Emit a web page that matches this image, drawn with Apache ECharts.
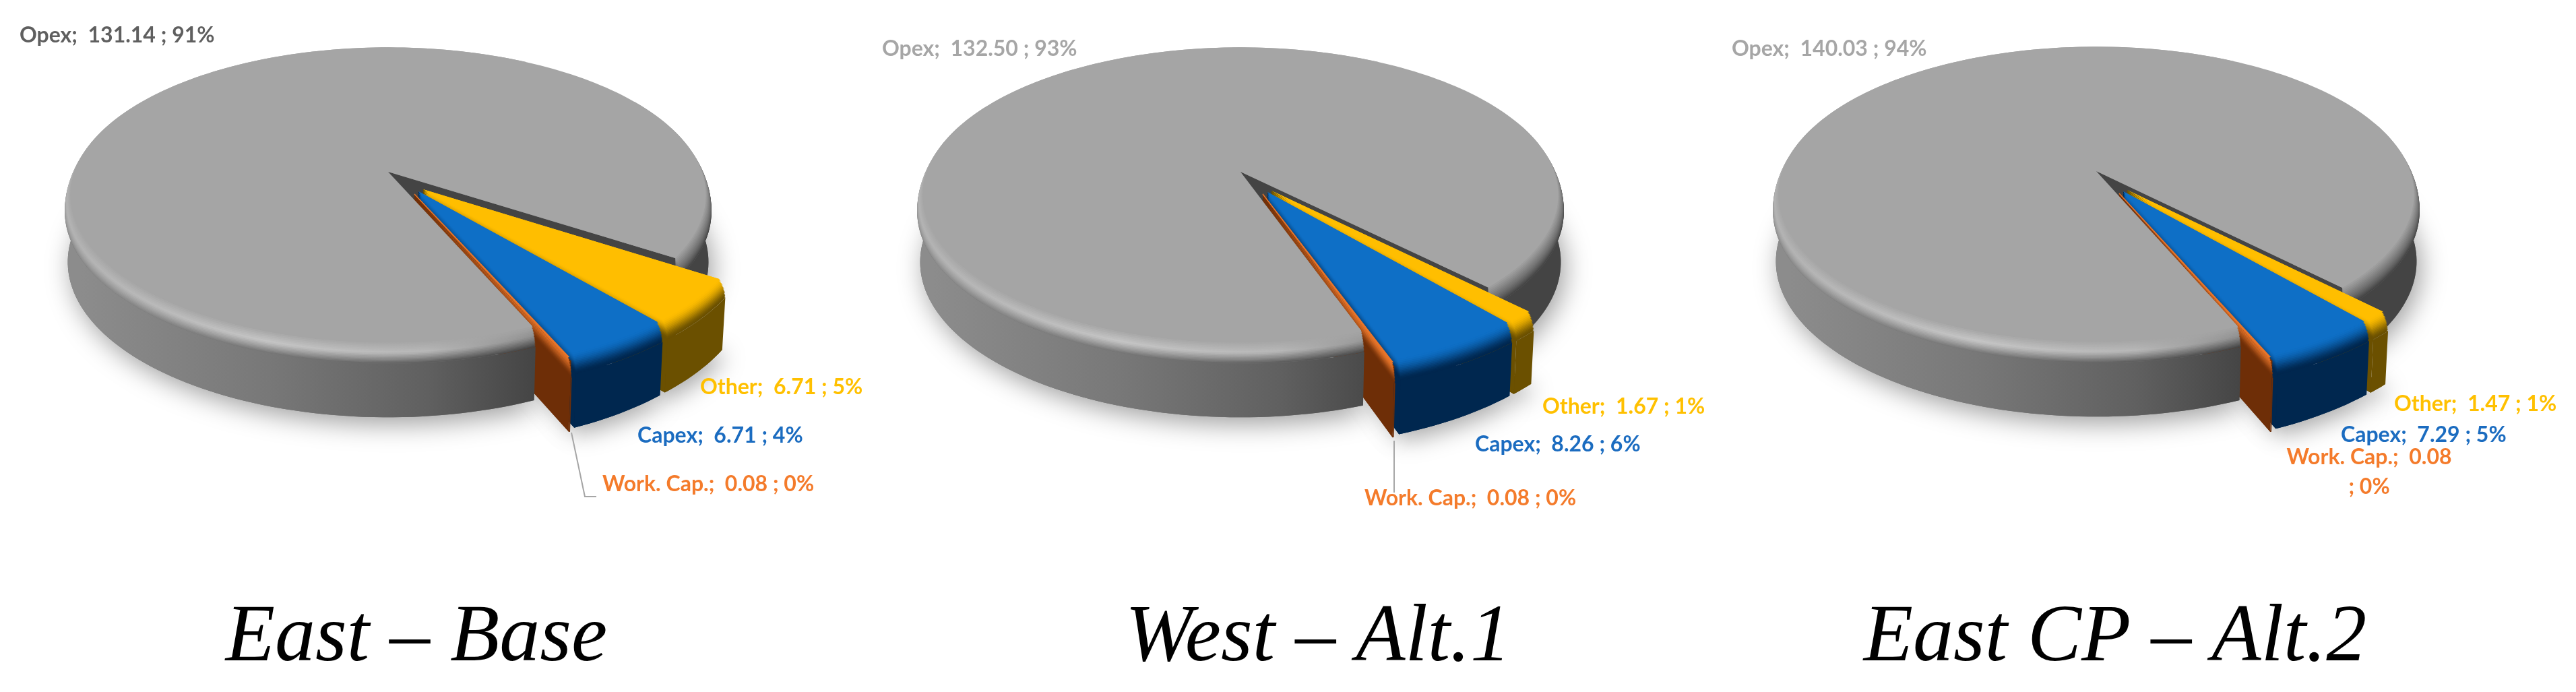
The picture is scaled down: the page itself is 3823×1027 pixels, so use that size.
<!DOCTYPE html>
<html>
<head>
<meta charset="utf-8">
<style>html,body{margin:0;padding:0;background:#fff}#c{width:3823px;height:1027px;filter:blur(0.6px)}</style>
<script src="https://cdn.jsdelivr.net/npm/echarts@6/dist/echarts.min.js"></script>
</head>
<body>
<div id="c"></div>
<script>
// ---- data ----
const panelTitles = ['East \u2013 Base', 'West \u2013 Alt.1', 'East CP \u2013 Alt.2'];
const sliceNames = ['Opex', 'Other', 'Capex', 'Work. Cap.'];
const opexValues = [131.14, 132.50, 140.03];
const otherValues = [6.71, 1.67, 1.47];
const capexValues = [6.71, 8.26, 7.29];
const workCapValues = [0.08, 0.08, 0.08];
const opexPct = [91, 93, 94];
const otherPct = [5, 1, 1];
const capexPct = [4, 6, 5];
const workCapPct = [0, 0, 0];

// ---- layout and styling ----
const panelLayout = [
  { cx: 576, cy: 255, opexEnd: 33.2, titleX: 613,
    explodeOffsets: [null, [52, 26], [45, 29], [39, 33]],
    labels: [[29, 53], [1039, 575], [946, 647], [894, 719]], opexColor: '#5f5f5f',
    leader: [[848, 642], [868, 737], [885, 737]] },
  { cx: 1841, cy: 255, opexEnd: 45.5, titleX: 1951,
    explodeOffsets: [null, [46, 28], [40, 30], [33, 33]],
    labels: [[1309, 73], [2289, 604], [2189, 660], [2025, 740]], opexColor: '#a6a6a6',
    leader: [[2069, 654], [2069, 731]] },
  { cx: 3111, cy: 254, opexEnd: 45.9, titleX: 3134,
    explodeOffsets: [null, [46, 28], [40, 30], [34, 33]],
    labels: [[2570, 73], [3553, 600], [3474, 646], [3516, 701]], opexColor: '#a6a6a6',
    wrapWork: true, leader: null }
];
const labelColors = ['#5f5f5f', '#FFC000', '#1B6CC0', '#F47B2B'];
const topColors = ['#A5A5A5', '#FFBE00', '#0E6FC6', '#E8752A'];
const wallColors = ['#444444', '#6B5000', '#00274F', '#6E2E07'];
const PROJ = { A: 218, B: 475, p: 0.16, rimDepth: 0.24, rimLayers: 14, topR: 0.98 };

function hex(c) { return [1, 3, 5].map(i => parseInt(c.substr(i, 2), 16)); }
function mix(a, b, t) {
  const x = hex(a), y = hex(b);
  return '#' + x.map((v, i) => Math.round(v + (y[i] - v) * t).toString(16).padStart(2, '0')).join('');
}
function project(L, X, Y, z) {
  const w = 1 - PROJ.p * Y;
  const x = PROJ.B * X / w, y = PROJ.A * Y / w;
  return [L.cx + x * (1 - 0.012 * z), L.cy + y + z * (97 + 0.03 * y)];
}
// inverse of the top-plane projection, for a screen offset from the pie centre
function unproject(dx, dy) {
  const ys = dy / PROJ.A;
  const Y = ys / (1 + PROJ.p * ys);
  const w = 1 - PROJ.p * Y;
  return [dx / PROJ.B * w, Y];
}
function arc(L, a0, a1, r, z, ox, oy) {
  const n = Math.min(400, Math.max(2, Math.ceil(Math.abs(a1 - a0) / 1.5)));
  const pts = [];
  for (let i = 0; i <= n; i++) {
    const a = (a0 + (a1 - a0) * i / n) * Math.PI / 180;
    pts.push(project(L, ox + r * Math.cos(a), oy + r * Math.sin(a), z));
  }
  return pts;
}
function wedge(L, a0, a1, r, z, ox, oy) {
  return [project(L, ox, oy, z)].concat(arc(L, a0, a1, r, z, ox, oy));
}
function band(L, a0, a1, r0, z0, r1, z1, ox, oy) {
  return arc(L, a0, a1, r0, z0, ox, oy).concat(arc(L, a1, a0, r1, z1, ox, oy));
}
function sideGradient(L, stops) {
  return { type: 'linear', x: L.cx - 456, y: 0, x2: L.cx + 221, y2: 0, global: true,
    colorStops: stops.map((c, i) => ({ offset: [0, 0.41, 0.76, 1][i], color: c })) };
}
const sideStops = ['#8C8C8C', '#787878', '#606060', '#444444'];
const hiStops = ['#B4B4B4', '#C6C6C6', '#B8B8B8', '#8E8E8E'];

function poly(points, fill, z2, extra) {
  return { type: 'polygon', shape: { points }, style: Object.assign({ fill }, extra || {}), z2, silent: true };
}
function renderOpex(L, a0, a1, children) {
  // a0 = Opex end (upper edge of the gap), a1 = Opex start (lower edge of the gap)
  const A = PROJ;
  const shadow = { shadowBlur: 38, shadowColor: 'rgba(0,0,0,0.38)', shadowOffsetY: 10, shadowOffsetX: 6 };
  children.push(poly(wedge(L, a1, a0 + 360, 1, 1, 0, 0), '#707070', 0, shadow));
  // back outer wall
  children.push(poly(band(L, a0 - 65, a0, 1, A.rimDepth, 1, 1, 0, 0), '#444444', 1));
  // front outer wall
  children.push(poly(band(L, a1, 200, 1, A.rimDepth, 1, 1, 0, 0), sideGradient(L, sideStops), 10));
  for (let k = 0; k <= A.rimLayers; k++) {
    const t = k / A.rimLayers;
    const z = A.rimDepth * (1 - t), r = 1 - (1 - A.topR) * t * t;
    const t1 = Math.min(1, t / 0.55), t2 = Math.max(0, (t - 0.55) / 0.45);
    const backFill = mix('#444444', '#A5A5A5', t);
    children.push(poly(band(L, a0 - 65, a0, r, z, 0.8, z, 0, 0), backFill, 1));
    const stops = sideStops.map((c, i) => mix(mix(c, hiStops[i], t1), '#A5A5A5', t2));
    children.push(poly(band(L, a1, 300, r, z, 0.8, z, 0, 0), sideGradient(L, stops), 10));
  }
  // inner radial wall seen through the gap, over the back rim
  const c0 = Math.cos(a0 * Math.PI / 180), s0 = Math.sin(a0 * Math.PI / 180);
  children.push(poly([project(L, 0, 0, 0), project(L, A.topR * c0, A.topR * s0, 0),
    project(L, c0, s0, 1), project(L, 0, 0, 1)], '#444444', 1));
  children.push(poly(wedge(L, a1, a0 + 360, A.topR, 0, 0, 0), '#A5A5A5', 11));
}
function renderSlice(L, i, a0, a1, baseZ, children) {
  const A = PROJ;
  const off = L.explodeOffsets[i];
  const [ox, oy] = unproject(off[0], off[1]);
  const top = topColors[i], wall = wallColors[i];
  const rad = a1 * Math.PI / 180;
  const ex = ox + Math.cos(rad), ey = oy + Math.sin(rad);
  children.push(poly(wedge(L, a0, a1, 1, 1, ox, oy), wall, 0,
    { shadowBlur: 34, shadowColor: 'rgba(0,0,0,0.34)', shadowOffsetY: 10, shadowOffsetX: 6 }));
  children.push(poly([project(L, ox, oy, 0), project(L, ex, ey, 0), project(L, ex, ey, 1), project(L, ox, oy, 1)], wall, baseZ));
  children.push(poly(band(L, a0, a1, 1, A.rimDepth, 1, 1, ox, oy), wall, baseZ));
  for (let k = 0; k <= A.rimLayers; k++) {
    const t = k / A.rimLayers;
    children.push(poly(wedge(L, a0, a1, 1 - (1 - A.topR) * t * t, A.rimDepth * (1 - t), ox, oy),
      mix(wall, top, t * t * (3 - 2 * t)), baseZ));
  }
  const extra = i === 3 ? { stroke: top, lineWidth: 1.5 } : {};
  children.push(poly(wedge(L, a0, a1, A.topR, 0, ox, oy), top, baseZ, extra));
}

function makeRender(panel) {
  const L = panelLayout[panel];
  const values = [opexValues[panel], otherValues[panel], capexValues[panel], workCapValues[panel]];
  const total = values.reduce((s, v) => s + v, 0);
  const deg = v => v / total * 360;
  return function (params, api) {
    const idx = params.dataIndex;
    const val = api.value(0);
    const pct = api.value(1);
    const children = [];
    // clockwise from the end of Opex: Other, Capex, Work. Cap.
    let a = L.opexEnd;
    for (let j = 1; j < idx; j++) a += deg(values[j]);
    if (idx === 0) {
      renderOpex(L, L.opexEnd, L.opexEnd + deg(total - values[0]), children);
    } else {
      renderSlice(L, idx, a, a + deg(val), 2 + idx, children);
    }
    // data label
    const name = sliceNames[idx];
    const pos = L.labels[idx];
    const wrap = idx === 3 && L.wrapWork;
    const text = name + ';  ' + val.toFixed(2) + (wrap ? '\n' : ' ') + '; ' + pct + '%';
    children.push({ type: 'text', z2: 30, silent: true, style: {
      x: pos[0], y: pos[1], text,
      fill: idx === 0 ? L.opexColor : labelColors[idx],
      fontFamily: 'Lato', fontWeight: 700, fontSize: 32, lineHeight: 44,
      align: wrap ? 'center' : 'left', verticalAlign: 'middle' } });
    if (idx === 3 && L.leader) {
      children.push({ type: 'polyline', z2: 29, silent: true, shape: { points: L.leader },
        style: { stroke: '#A6A6A6', lineWidth: 2, fill: null } });
    }
    return { type: 'group', children };
  };
}

const chart = echarts.init(document.getElementById('c'), null, { renderer: 'canvas' });
chart.setOption({
  backgroundColor: '#ffffff',
  animation: false,
  title: panelTitles.map((t, i) => ({
    text: t, left: panelLayout[i].titleX, top: 878, textAlign: 'center',
    textStyle: { fontFamily: 'Liberation Serif', fontStyle: 'italic', fontWeight: 'normal', fontSize: 120, color: '#000', lineHeight: 130 }
  })),
  series: panelTitles.map((t, i) => ({
    type: 'custom', coordinateSystem: 'none', name: t, silent: true,
    renderItem: makeRender(i),
    data: [
      { name: sliceNames[0], value: [opexValues[i], opexPct[i]] },
      { name: sliceNames[1], value: [otherValues[i], otherPct[i]] },
      { name: sliceNames[2], value: [capexValues[i], capexPct[i]] },
      { name: sliceNames[3], value: [workCapValues[i], workCapPct[i]] }
    ]
  }))
});
</script>
</body>
</html>
